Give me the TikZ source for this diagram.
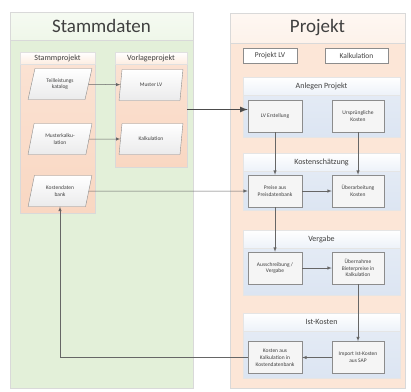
\documentclass[tikz,border=0pt]{standalone}
\usepackage{fontspec}
\setmainfont{Carlito}
\usetikzlibrary{shapes.geometric}
\usetikzlibrary{shadows}
\definecolor{gruenbg}{HTML}{E3F0D9}
\definecolor{gruenkopf}{HTML}{EFF7E9}
\definecolor{orangebg}{HTML}{FCE6D7}
\definecolor{orangekopf}{HTML}{FDF2EA}
\definecolor{spalte}{HTML}{F9D7C2}
\definecolor{spaltekopf}{HTML}{FDEDE1}
\definecolor{blaubg}{HTML}{DCE5F2}
\definecolor{blaukopf}{HTML}{EDF2F9}
\definecolor{rahmen}{HTML}{8C8C8C}
\definecolor{schrift}{HTML}{404040}

\begin{document}
\begin{tikzpicture}[x = 1pt, y = -1pt,
                    >=latex,
                    every node/.style = {text = schrift},
                    panel/.style = {draw = black!15, inner sep = 0pt,
                                    drop shadow = {opacity = .12, shadow xshift = 1pt, shadow yshift = -1pt}},
                    titel/.style = {font = \fontsize{19}{21}\selectfont},
                    kopf/.style = {draw = black!12, font = \fontsize{8}{9}\selectfont, inner sep = 0pt},
                    proc/.style = {rectangle, draw = rahmen, fill = black!4, semithin,
                                   align = center, inner sep = 1pt, minimum height = 32pt,
                                   font = \fontsize{5.5}{6.8}\selectfont,
                                   drop shadow = {opacity = .15, shadow xshift = .8pt, shadow yshift = -.8pt}},
                    io/.style = {trapezium, trapezium left angle = 72, trapezium right angle = 108,
                                 trapezium stretches = true, draw = rahmen,
                                 top color = white, bottom color = blue!4!black!8,
                                 minimum width = 64pt, minimum height = 31pt, inner sep = 0pt,
                                 align = center, font = \fontsize{5.5}{6.8}\selectfont},
                    link/.style = {->, draw = black!60, line width = .5pt},
                    semithin/.style = {line width = .5pt}]
            \useasboundingbox (0,0) rectangle (411,391);
            \fill [white] (0,0) rectangle (411,391);

            % Draw the two panels with their titles:
            \node [panel, fill = gruenbg, minimum width = 183pt, minimum height = 376pt] (stammdaten) at (101.5,200) {};
            \node [panel, top color = gruenkopf!60!white, bottom color = gruenkopf, minimum width = 183pt, minimum height = 28pt, titel] (stammtitel) at (101.5,26) {Stammdaten};
            \node [panel, fill = orangebg, minimum width = 175pt, minimum height = 375pt] (projekt) at (317.5,200.5) {};
            \node [panel, top color = orangekopf!60!white, bottom color = orangekopf, minimum width = 175pt, minimum height = 30pt, titel] (projekttitel) at (317.5,28) {Projekt};

            % Draw the two columns of the master data:
            \node [panel, top color = spalte!70!white, bottom color = spalte, minimum width = 75pt, minimum height = 161pt] (stammprojekt) at (57.5,132.5) {};
            \node [kopf, top color = white, bottom color = spaltekopf, minimum width = 75pt, minimum height = 12pt] (stammkopf) at (57.5,58) {Stammprojekt};
            \node [panel, top color = spalte!70!white, bottom color = spalte, minimum width = 72pt, minimum height = 115pt] (vorlage) at (151,109.5) {};
            \node [kopf, top color = white, bottom color = spaltekopf, minimum width = 72pt, minimum height = 12pt] (vorlagekopf) at (151,58) {Vorlageprojekt};

            % Draw the groups of the project:
            \foreach \gname/\ytop/\ybot/\gtitel in {anlegen/77/137/Anlegen Projekt, schaetzung/153/210/Kostenschätzung,
                                                   vergabe/230/295/Vergabe, ist/313/378/Ist-Kosten} {
                \fill [black!10] (244,\ytop+1) rectangle (401,\ybot+1);
                \draw [draw = black!10, top color = blaubg!70!white, bottom color = blaubg] (243,\ytop) rectangle (400,\ybot);
                \draw [draw = black!10, top color = white, bottom color = blaukopf] (243,\ytop) rectangle (400,\ytop+18)
                    node [midway, font = \fontsize{8}{9}\selectfont] (\gname-titel) {\gtitel};
            }

            % Master data as parallelograms:
            \node [io] (katalog) at (60,84) {Teilleistungs\\katalog};
            \node [io] (musterkalk) at (60,139) {Musterkalku-\\lation};
            \node [io] (kdb) at (60,191) {Kostendaten\\bank};
            \node [io] (musterlv) at (151,85) {Muster LV};
            \node [io] (kalk) at (151,139) {Kalkulation};

            % Process steps of the project:
            \node [proc, fill = white, minimum width = 54pt, minimum height = 15pt, font = \fontsize{7.5}{9}\selectfont] (projektlv) at (270,55.5) {Projekt LV};
            \node [proc, fill = white, minimum width = 63pt, minimum height = 15pt, font = \fontsize{7.5}{9}\selectfont] (kalkulation) at (356.5,55.5) {Kalkulation};
            \node [proc, minimum width = 54pt] (lve) at (275,116) {LV Erstellung};
            \node [proc, minimum width = 52pt] (urk) at (358,116) {Ursprüngliche\\Kosten};
            \node [proc, minimum width = 54pt] (preise) at (275,191) {Preise aus\\Preisdatenbank};
            \node [proc, minimum width = 52pt] (ueberarb) at (358,191) {Überarbeitung\\Kosten};
            \node [proc, minimum width = 54pt] (ausschr) at (275,268) {Ausschreibung /\\Vergabe};
            \node [proc, minimum width = 52pt] (uebernahme) at (358,268) {Übernahme\\Bieterpreise in\\Kalkulation};
            \node [proc, minimum width = 54pt] (kak) at (275,357.5) {Kosten aus\\Kalkulation in\\Kostendatenbank};
            \node [proc, minimum width = 52pt] (import) at (358,357.5) {Import Ist-Kosten\\aus SAP};

            % Connections:
            \draw [link] (katalog) -- (musterlv);
            \draw [link] (musterkalk) -- (kalk);
            \draw [->, draw = black!70, line width = 1.6pt] (vorlage.east) -- (lve.west |- vorlage.east);
            \draw [link] (kdb) -- (preise);
            \draw [link] (lve) -- (preise);
            \draw [link] (urk) -- (ueberarb);
            \draw [link] (preise) -- (ueberarb);
            \draw [link] (preise) -- (ausschr);
            \draw [link] (ausschr) -- (uebernahme);
            \draw [link] (uebernahme) -- (import);
            \draw [link] (import) -- (kak);
            \draw [link] (kak.west) -| (kdb.south);
        \end{tikzpicture}
\end{document}
